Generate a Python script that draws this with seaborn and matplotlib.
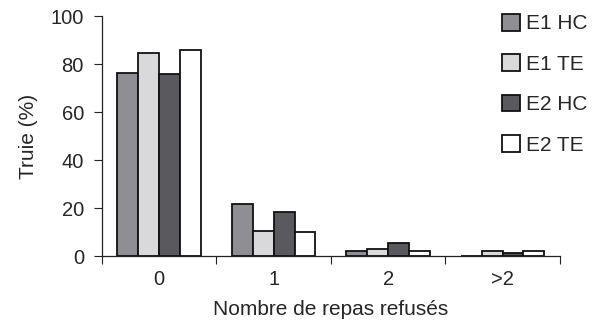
import pandas as pd
import matplotlib.pyplot as plt
import seaborn as sns
from matplotlib.patches import Patch

# ---------------------------------------------------------------------------
# Data
# ---------------------------------------------------------------------------

categories = ["0", "1", "2", ">2"]
groups = ["E1 HC", "E1 TE", "E2 HC", "E2 TE"]
e1_hc = [76.4, 21.7, 2.2, 0.0]
e1_te = [84.7, 10.6, 3.1, 2.1]
e2_hc = [76.0, 18.2, 5.3, 1.3]
e2_te = [85.8, 10.1, 2.2, 2.1]

colors = ["#8f8e93", "#d9d9db", "#5a595e", "#ffffff"]

rows = []
for g, vals in zip(groups, [e1_hc, e1_te, e2_hc, e2_te]):
    for c, v in zip(categories, vals):
        rows.append({"cat": c, "group": g, "val": v})
df = pd.DataFrame(rows)

# ---------------------------------------------------------------------------
# Style
# ---------------------------------------------------------------------------

sns.set_theme(style="ticks")
plt.rcParams["font.family"] = ["Liberation Sans", "DejaVu Sans"]

fig = plt.figure(figsize=(6, 3.2), dpi=100)
ax = fig.add_axes([0.17, 0.2, 0.763, 0.75])

sns.barplot(
    data=df,
    x="cat",
    y="val",
    hue="group",
    order=categories,
    hue_order=groups,
    palette=colors,
    width=0.73,
    edgecolor="#111111",
    linewidth=1.3,
    saturation=1,
    legend=False,
    ax=ax,
)

ax.set_xlim(-0.5, 3.5)
ax.set_ylim(0, 100)
ax.set_yticks([0, 20, 40, 60, 80, 100])
ax.set_xticks([-0.5, 0.5, 1.5, 2.5, 3.5], minor=True)
ax.tick_params(axis="x", which="major", length=0, labelsize=14.5, pad=10)
ax.tick_params(axis="x", which="minor", length=6, width=0.8, color="#222222")
ax.tick_params(axis="y", length=6, width=0.8, color="#222222", labelsize=14.5, pad=7)

for s in ["top", "right"]:
    ax.spines[s].set_visible(False)
for s in ["left", "bottom"]:
    ax.spines[s].set_linewidth(0.9)
    ax.spines[s].set_color("#222222")

ax.set_xlabel("Nombre de repas refusés", fontsize=15, labelpad=8)
ax.set_ylabel("Truie (%)", fontsize=15, labelpad=9)

handles = [Patch(facecolor=c, edgecolor="#111111", linewidth=1.3) for c in colors]
fig.legend(
    handles,
    groups,
    loc="upper left",
    bbox_to_anchor=(0.806, 1.015),
    frameon=False,
    fontsize=15,
    handlelength=0.85,
    handleheight=0.85,
    handletextpad=0.3,
    labelspacing=1.0,
)

fig.savefig("out.png", dpi=100)
